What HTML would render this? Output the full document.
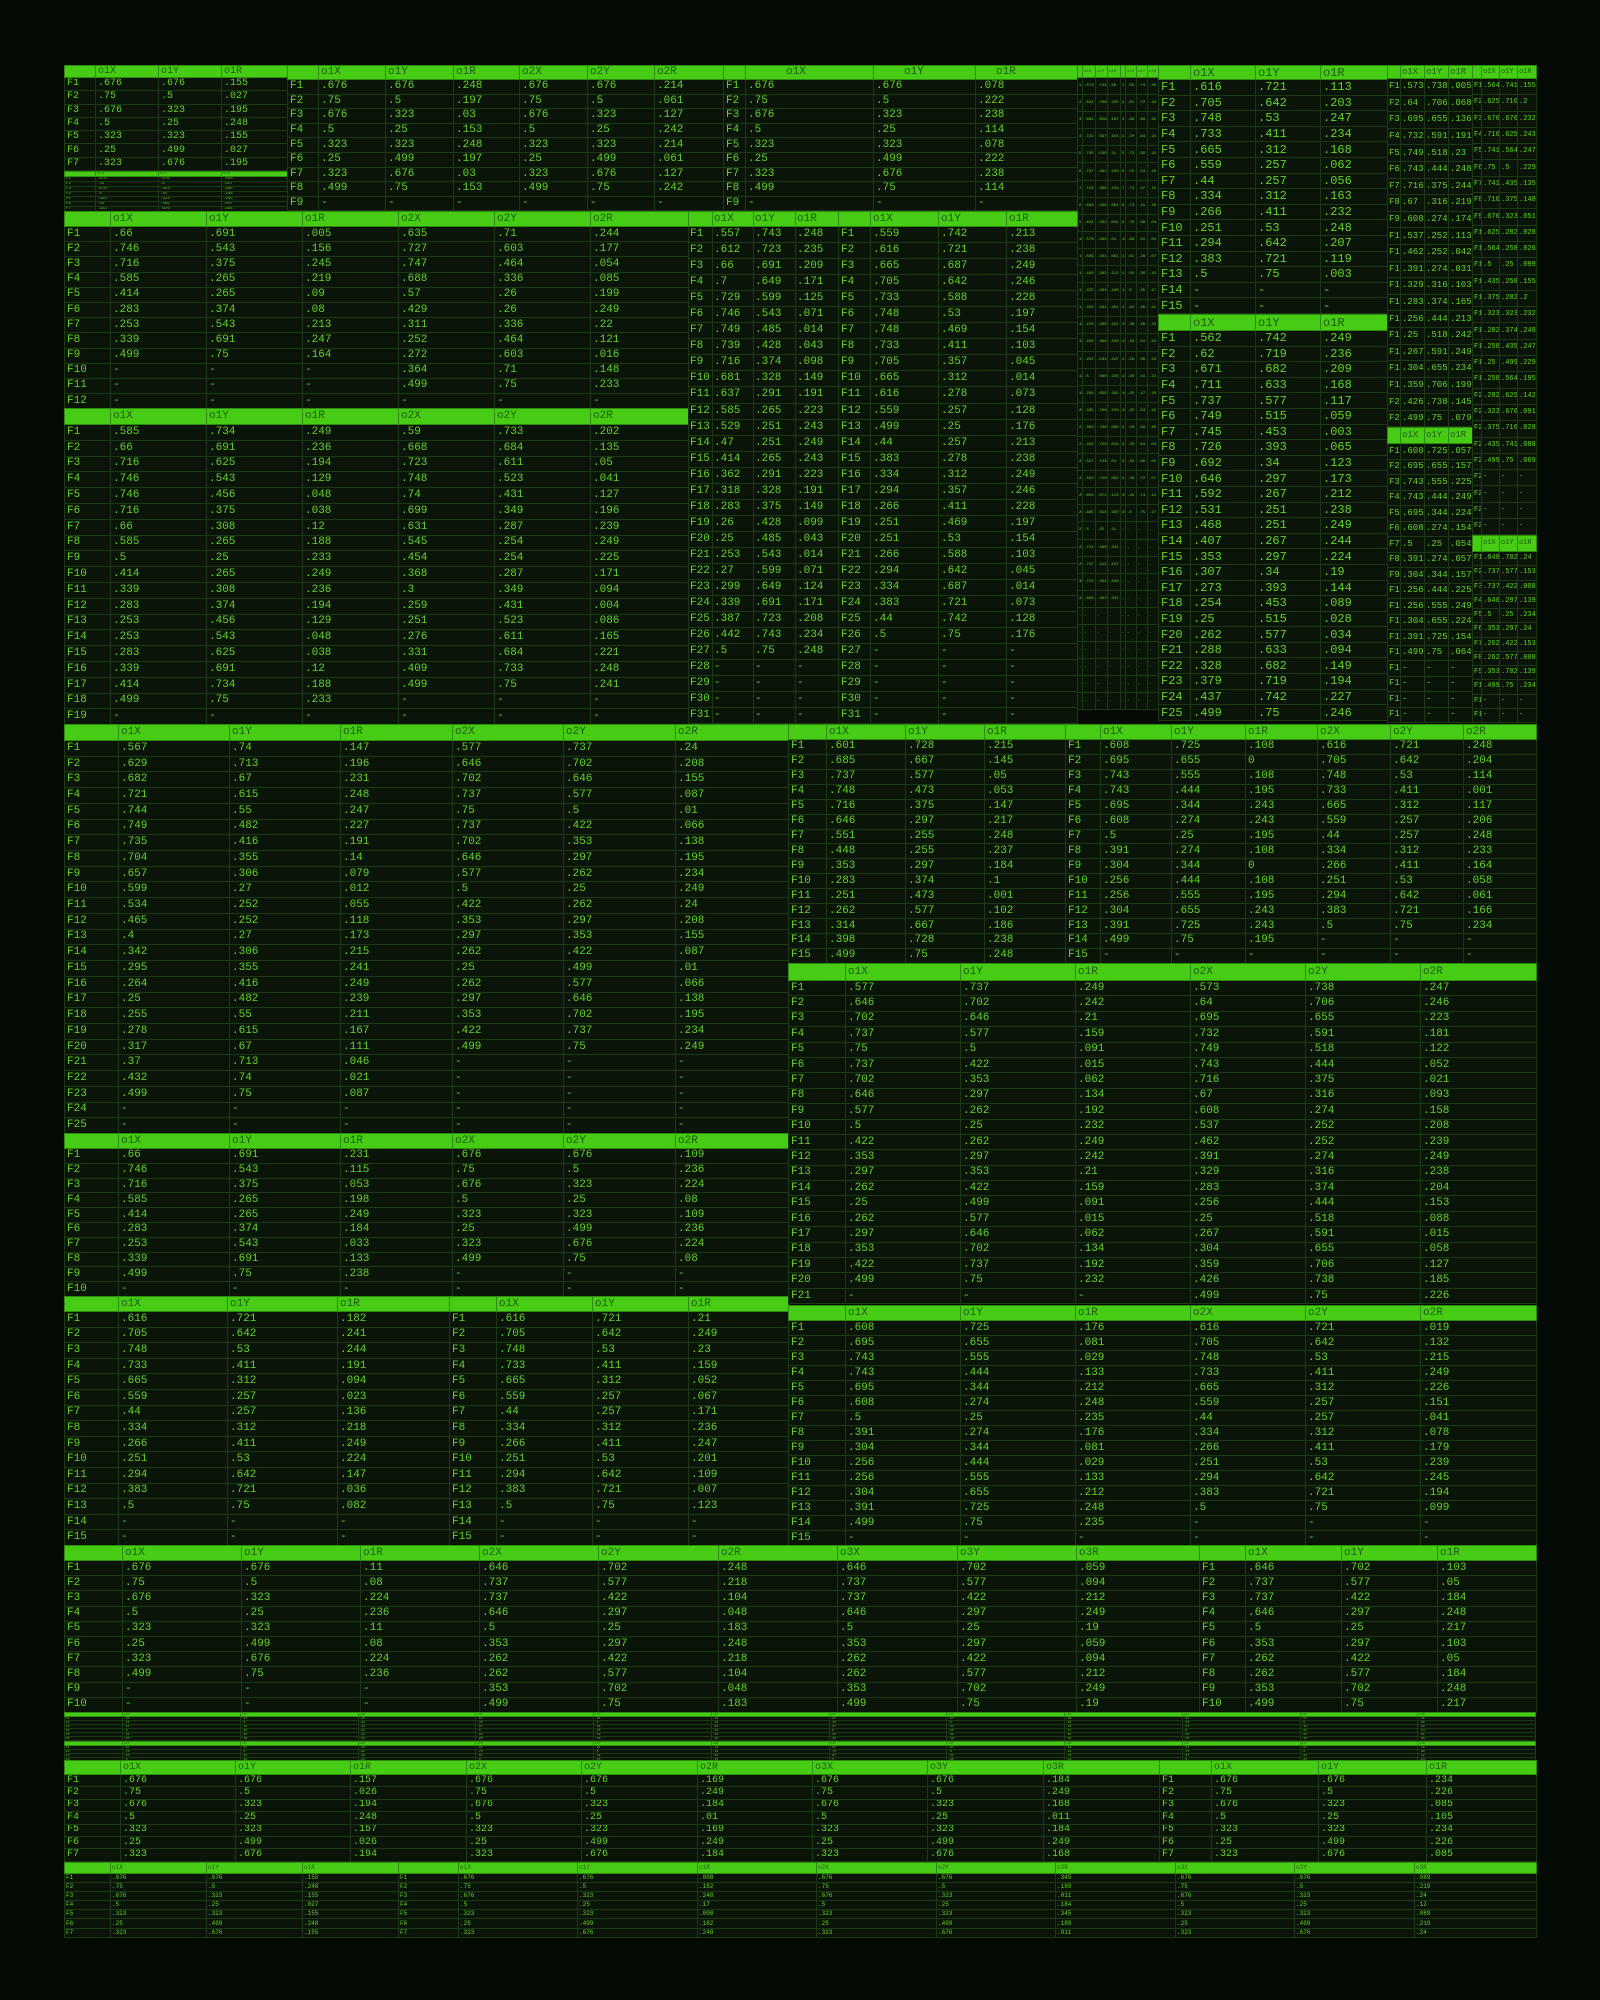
<!DOCTYPE html>
<html><head><meta charset="utf-8">
<style>
html,body{margin:0;padding:0;background:#050b04;width:1600px;height:2000px;overflow:hidden}
.t{position:absolute;border-collapse:collapse;table-layout:fixed;background:#0a1408;font-family:"Liberation Mono","DejaVu Sans Mono",monospace;color:#63d42b;font-size:11px}
.t td{border:1px solid #1c3815;padding:0 0 0 2px;white-space:nowrap;overflow:hidden;line-height:1;vertical-align:middle}
.t tr{height:var(--r)}
.t tr.h{height:var(--hh)}
.t tr.h td{background:#47cc16;color:#1d5a0b;border-color:#2f8a10}
.s td{padding:0 0 0 1px}
</style></head><body>

<!-- T1 -->
<table class="t" style="left:64px;top:65px;width:223px;--r:13.3px;--hh:12px;font-size:10px">
<colgroup><col style="width:31px"><col style="width:63px"><col style="width:63px"><col style="width:66px"></colgroup>
<tr class="h"><td><td>o1X<td>o1Y<td>o1R
<tr><td>F1<td>.676<td>.676<td>.155
<tr><td>F2<td>.75<td>.5<td>.027
<tr><td>F3<td>.676<td>.323<td>.195
<tr><td>F4<td>.5<td>.25<td>.248
<tr><td>F5<td>.323<td>.323<td>.155
<tr><td>F6<td>.25<td>.499<td>.027
<tr><td>F7<td>.323<td>.676<td>.195
</table>
<table class="t s" style="left:64px;top:171px;width:223px;--r:5px;--hh:3px;font-size:4px">
<colgroup><col style="width:31px"><col style="width:63px"><col style="width:63px"><col style="width:66px"></colgroup>
<tr class="h"><td><td>o1X<td>o1Y<td>o1R
<tr><td>F1<td>.676<td>.676<td>.155
<tr><td>F2<td>.75<td>.5<td>.027
<tr><td>F3<td>.676<td>.323<td>.195
<tr><td>F4<td>.5<td>.25<td>.248
<tr><td>F5<td>.323<td>.323<td>.155
<tr><td>F6<td>.25<td>.499<td>.027
<tr><td>F7<td>.323<td>.676<td>.195
</table>

<!-- T2 -->
<table class="t" style="left:287px;top:65px;width:436px;--r:14.6px;--hh:14px">
<colgroup><col style="width:31px"><col style="width:67px"><col style="width:68px"><col style="width:66px"><col style="width:68px"><col style="width:67px"><col style="width:69px"></colgroup>
<tr class="h"><td><td>o1X<td>o1Y<td>o1R<td>o2X<td>o2Y<td>o2R
<tr><td>F1<td>.676<td>.676<td>.248<td>.676<td>.676<td>.214
<tr><td>F2<td>.75<td>.5<td>.197<td>.75<td>.5<td>.061
<tr><td>F3<td>.676<td>.323<td>.03<td>.676<td>.323<td>.127
<tr><td>F4<td>.5<td>.25<td>.153<td>.5<td>.25<td>.242
<tr><td>F5<td>.323<td>.323<td>.248<td>.323<td>.323<td>.214
<tr><td>F6<td>.25<td>.499<td>.197<td>.25<td>.499<td>.061
<tr><td>F7<td>.323<td>.676<td>.03<td>.323<td>.676<td>.127
<tr><td>F8<td>.499<td>.75<td>.153<td>.499<td>.75<td>.242
<tr><td>F9<td>-<td>-<td>-<td>-<td>-<td>-
</table>

<!-- T3 -->
<table class="t" style="left:723px;top:65px;width:354px;--r:14.6px;--hh:14px">
<colgroup><col style="width:22px"><col style="width:128px"><col style="width:102px"><col style="width:102px"></colgroup>
<tr class="h"><td><td style="padding-left:40px">o1X<td style="padding-left:30px">o1Y<td style="padding-left:20px">o1R
<tr><td>F1<td>.676<td>.676<td>.078
<tr><td>F2<td>.75<td>.5<td>.222
<tr><td>F3<td>.676<td>.323<td>.238
<tr><td>F4<td>.5<td>.25<td>.114
<tr><td>F5<td>.323<td>.323<td>.078
<tr><td>F6<td>.25<td>.499<td>.222
<tr><td>F7<td>.323<td>.676<td>.238
<tr><td>F8<td>.499<td>.75<td>.114
<tr><td>F9<td>-<td>-<td>-
</table>

<!-- micro column -->
<table class="t s" style="left:1077px;top:65px;width:43px;--r:17.1px;--hh:12px;font-size:4px">
<colgroup><col style="width:5px"><col style="width:13px"><col style="width:12px"><col style="width:13px"></colgroup>
<tr class="h"><td><td>o1X<td>o1Y<td>o1R
<tr><td>1<td>.573<td>.744<td>.26
<tr><td>2<td>.633<td>.708<td>.235
<tr><td>3<td>.684<td>.658<td>.197
<tr><td>4<td>.722<td>.597<td>.154
<tr><td>5<td>.745<td>.530<td>.21
<tr><td>6<td>.747<td>.462<td>.150
<tr><td>7<td>.729<td>.396<td>.159
<tr><td>8<td>.693<td>.339<td>.094
<tr><td>9<td>.641<td>.292<td>.041
<tr><td>10<td>.578<td>.260<td>.01
<tr><td>11<td>.509<td>.251<td>.061
<tr><td>12<td>.440<td>.262<td>.112
<tr><td>13<td>.375<td>.294<td>.160
<tr><td>14<td>.320<td>.341<td>.201
<tr><td>15<td>.279<td>.400<td>.232
<tr><td>16<td>.256<td>.466<td>.248
<tr><td>17<td>.252<td>.534<td>.247
<tr><td>18<td>.5<td>.600<td>.229
<tr><td>19<td>.290<td>.659<td>.195
<tr><td>20<td>.335<td>.706<td>.150
<tr><td>21<td>.393<td>.738<td>.098
<tr><td>22<td>.459<td>.750<td>.043
<tr><td>23<td>.527<td>.743<td>.01
<tr><td>24<td>.593<td>.716<td>.062
<tr><td>25<td>.650<td>.672<td>.113
<tr><td>26<td>.695<td>.614<td>.160
<tr><td>27<td>.5<td>.25<td>.21
<tr><td>28<td>.741<td>.480<td>.231
<tr><td>29<td>.737<td>.413<td>.247
<tr><td>30<td>.712<td>.352<td>.248
<tr><td>31<td>.669<td>.302<td>.232
<tr><td>-<td>-<td>-<td>-
<tr><td>-<td>-<td>-<td>-
<tr><td>-<td>-<td>-<td>-
<tr><td>-<td>-<td>-<td>-
<tr><td>-<td>-<td>-<td>-
<tr><td>-<td>-<td>-<td>-
</table>
<table class="t s" style="left:1120px;top:65px;width:38px;--r:17.1px;--hh:12px;font-size:4px">
<colgroup><col style="width:5px"><col style="width:11px"><col style="width:11px"><col style="width:11px"></colgroup>
<tr class="h"><td><td>o1X<td>o1Y<td>o1R
<tr><td>1<td>.55<td>.74<td>.20
<tr><td>2<td>.61<td>.72<td>.24
<tr><td>3<td>.66<td>.69<td>.25
<tr><td>4<td>.70<td>.64<td>.24
<tr><td>5<td>.73<td>.59<td>.22
<tr><td>6<td>.75<td>.53<td>.19
<tr><td>7<td>.74<td>.47<td>.15
<tr><td>8<td>.73<td>.41<td>.10
<tr><td>9<td>.70<td>.36<td>.04
<tr><td>10<td>.66<td>.31<td>.01
<tr><td>11<td>.61<td>.28<td>.07
<tr><td>12<td>.55<td>.26<td>.12
<tr><td>13<td>.5<td>.25<td>.17
<tr><td>14<td>.44<td>.26<td>.21
<tr><td>15<td>.38<td>.28<td>.23
<tr><td>16<td>.33<td>.31<td>.24
<tr><td>17<td>.29<td>.36<td>.24
<tr><td>18<td>.26<td>.41<td>.22
<tr><td>19<td>.25<td>.47<td>.19
<tr><td>20<td>.25<td>.53<td>.15
<tr><td>21<td>.26<td>.59<td>.10
<tr><td>22<td>.29<td>.64<td>.04
<tr><td>23<td>.33<td>.69<td>.01
<tr><td>24<td>.38<td>.72<td>.07
<tr><td>25<td>.44<td>.74<td>.12
<tr><td>26<td>.5<td>.75<td>.17
<tr><td>-<td>-<td>-<td>-
<tr><td>-<td>-<td>-<td>-
<tr><td>-<td>-<td>-<td>-
<tr><td>-<td>-<td>-<td>-
<tr><td>-<td>-<td>-<td>-
<tr><td>-<td>-<td>-<td>-
<tr><td>-<td>-<td>-<td>-
<tr><td>-<td>-<td>-<td>-
<tr><td>-<td>-<td>-<td>-
<tr><td>-<td>-<td>-<td>-
<tr><td>-<td>-<td>-<td>-
</table>

<!-- T4 -->
<table class="t" style="left:1158px;top:65px;width:229px;--r:15.6px;--hh:14px;font-size:12px">
<colgroup><col style="width:32px"><col style="width:65px"><col style="width:65px"><col style="width:67px"></colgroup>
<tr class="h"><td><td>o1X<td>o1Y<td>o1R
<tr><td>F1<td>.616<td>.721<td>.113
<tr><td>F2<td>.705<td>.642<td>.203
<tr><td>F3<td>.748<td>.53<td>.247
<tr><td>F4<td>.733<td>.411<td>.234
<tr><td>F5<td>.665<td>.312<td>.168
<tr><td>F6<td>.559<td>.257<td>.062
<tr><td>F7<td>.44<td>.257<td>.056
<tr><td>F8<td>.334<td>.312<td>.163
<tr><td>F9<td>.266<td>.411<td>.232
<tr><td>F10<td>.251<td>.53<td>.248
<tr><td>F11<td>.294<td>.642<td>.207
<tr><td>F12<td>.383<td>.721<td>.119
<tr><td>F13<td>.5<td>.75<td>.003
<tr><td>F14<td>-<td>-<td>-
<tr><td>F15<td>-<td>-<td>-
</table>
<table class="t" style="left:1158px;top:314px;width:229px;--r:15.6px;--hh:16px;font-size:12px">
<colgroup><col style="width:32px"><col style="width:65px"><col style="width:65px"><col style="width:67px"></colgroup>
<tr class="h"><td><td>o1X<td>o1Y<td>o1R
<tr><td>F1<td>.562<td>.742<td>.249
<tr><td>F2<td>.62<td>.719<td>.236
<tr><td>F3<td>.671<td>.682<td>.209
<tr><td>F4<td>.711<td>.633<td>.168
<tr><td>F5<td>.737<td>.577<td>.117
<tr><td>F6<td>.749<td>.515<td>.059
<tr><td>F7<td>.745<td>.453<td>.003
<tr><td>F8<td>.726<td>.393<td>.065
<tr><td>F9<td>.692<td>.34<td>.123
<tr><td>F10<td>.646<td>.297<td>.173
<tr><td>F11<td>.592<td>.267<td>.212
<tr><td>F12<td>.531<td>.251<td>.238
<tr><td>F13<td>.468<td>.251<td>.249
<tr><td>F14<td>.407<td>.267<td>.244
<tr><td>F15<td>.353<td>.297<td>.224
<tr><td>F16<td>.307<td>.34<td>.19
<tr><td>F17<td>.273<td>.393<td>.144
<tr><td>F18<td>.254<td>.453<td>.089
<tr><td>F19<td>.25<td>.515<td>.028
<tr><td>F20<td>.262<td>.577<td>.034
<tr><td>F21<td>.288<td>.633<td>.094
<tr><td>F22<td>.328<td>.682<td>.149
<tr><td>F23<td>.379<td>.719<td>.194
<tr><td>F24<td>.437<td>.742<td>.227
<tr><td>F25<td>.499<td>.75<td>.246
</table>

<!-- T5a -->
<table class="t s" style="left:1387px;top:65px;width:85px;--r:16.6px;--hh:13px;font-size:9px">
<colgroup><col style="width:13px"><col style="width:24px"><col style="width:24px"><col style="width:24px"></colgroup>
<tr class="h"><td><td>o1X<td>o1Y<td>o1R
<tr><td>F1<td>.573<td>.738<td>.005
<tr><td>F2<td>.64<td>.706<td>.068
<tr><td>F3<td>.695<td>.655<td>.136
<tr><td>F4<td>.732<td>.591<td>.191
<tr><td>F5<td>.749<td>.518<td>.23
<tr><td>F6<td>.743<td>.444<td>.248
<tr><td>F7<td>.716<td>.375<td>.244
<tr><td>F8<td>.67<td>.316<td>.219
<tr><td>F9<td>.608<td>.274<td>.174
<tr><td>F10<td>.537<td>.252<td>.113
<tr><td>F11<td>.462<td>.252<td>.042
<tr><td>F12<td>.391<td>.274<td>.031
<tr><td>F13<td>.329<td>.316<td>.103
<tr><td>F14<td>.283<td>.374<td>.165
<tr><td>F15<td>.256<td>.444<td>.213
<tr><td>F16<td>.25<td>.518<td>.242
<tr><td>F17<td>.267<td>.591<td>.249
<tr><td>F18<td>.304<td>.655<td>.234
<tr><td>F19<td>.359<td>.706<td>.199
<tr><td>F20<td>.426<td>.738<td>.145
<tr><td>F21<td>.499<td>.75<td>.079
</table>
<table class="t s" style="left:1387px;top:427px;width:85px;--r:15.5px;--hh:16px;font-size:9px">
<colgroup><col style="width:13px"><col style="width:24px"><col style="width:24px"><col style="width:24px"></colgroup>
<tr class="h"><td><td>o1X<td>o1Y<td>o1R
<tr><td>F1<td>.608<td>.725<td>.057
<tr><td>F2<td>.695<td>.655<td>.157
<tr><td>F3<td>.743<td>.555<td>.225
<tr><td>F4<td>.743<td>.444<td>.249
<tr><td>F5<td>.695<td>.344<td>.224
<tr><td>F6<td>.608<td>.274<td>.154
<tr><td>F7<td>.5<td>.25<td>.054
<tr><td>F8<td>.391<td>.274<td>.057
<tr><td>F9<td>.304<td>.344<td>.157
<tr><td>F10<td>.256<td>.444<td>.225
<tr><td>F11<td>.256<td>.555<td>.249
<tr><td>F12<td>.304<td>.655<td>.224
<tr><td>F13<td>.391<td>.725<td>.154
<tr><td>F14<td>.499<td>.75<td>.064
<tr><td>F15<td>-<td>-<td>-
<tr><td>F16<td>-<td>-<td>-
<tr><td>F17<td>-<td>-<td>-
<tr><td>F18<td>-<td>-<td>-
</table>

<!-- T5b -->
<table class="t s" style="left:1472px;top:65px;width:64px;--r:16.3px;--hh:13px;font-size:7px">
<colgroup><col style="width:9px"><col style="width:18px"><col style="width:18px"><col style="width:19px"></colgroup>
<tr class="h"><td><td>o1X<td>o1Y<td>o1R
<tr><td>F1<td>.564<td>.741<td>.155
<tr><td>F2<td>.625<td>.716<td>.2
<tr><td>F3<td>.676<td>.676<td>.232
<tr><td>F4<td>.716<td>.625<td>.243
<tr><td>F5<td>.741<td>.564<td>.247
<tr><td>F6<td>.75<td>.5<td>.229
<tr><td>F7<td>.741<td>.435<td>.135
<tr><td>F8<td>.716<td>.375<td>.148
<tr><td>F9<td>.676<td>.323<td>.051
<tr><td>F10<td>.625<td>.282<td>.028
<tr><td>F11<td>.564<td>.258<td>.026
<tr><td>F12<td>.5<td>.25<td>.099
<tr><td>F13<td>.435<td>.258<td>.155
<tr><td>F14<td>.375<td>.282<td>.2
<tr><td>F15<td>.323<td>.323<td>.232
<tr><td>F16<td>.282<td>.374<td>.248
<tr><td>F17<td>.258<td>.435<td>.247
<tr><td>F18<td>.25<td>.499<td>.229
<tr><td>F19<td>.258<td>.564<td>.195
<tr><td>F20<td>.282<td>.625<td>.142
<tr><td>F21<td>.323<td>.676<td>.091
<tr><td>F22<td>.375<td>.716<td>.028
<tr><td>F23<td>.435<td>.741<td>.088
<tr><td>F24<td>.499<td>.75<td>.069
<tr><td>F25<td>-<td>-<td>-
<tr><td>F26<td>-<td>-<td>-
<tr><td>F27<td>-<td>-<td>-
<tr><td>F28<td>-<td>-<td>-
</table>
<table class="t s" style="left:1472px;top:535px;width:64px;--r:14.25px;--hh:16px;font-size:7px">
<colgroup><col style="width:9px"><col style="width:18px"><col style="width:18px"><col style="width:19px"></colgroup>
<tr class="h"><td><td>o1X<td>o1Y<td>o1R
<tr><td>F1<td>.848<td>.702<td>.24
<tr><td>F2<td>.737<td>.577<td>.153
<tr><td>F3<td>.737<td>.422<td>.008
<tr><td>F4<td>.646<td>.297<td>.139
<tr><td>F5<td>.5<td>.25<td>.234
<tr><td>F6<td>.353<td>.297<td>.24
<tr><td>F7<td>.262<td>.422<td>.153
<tr><td>F8<td>.262<td>.577<td>.008
<tr><td>F9<td>.353<td>.702<td>.139
<tr><td>F10<td>.499<td>.75<td>.234
<tr><td>F11<td>-<td>-<td>-
<tr><td>F12<td>-<td>-<td>-
</table>

<!-- T6 -->
<table class="t" style="left:64px;top:211px;width:624px;--r:15.2px;--hh:15px">
<colgroup><col style="width:46px"><col style="width:96px"><col style="width:96px"><col style="width:96px"><col style="width:96px"><col style="width:96px"><col style="width:98px"></colgroup>
<tr class="h"><td><td>o1X<td>o1Y<td>o1R<td>o2X<td>o2Y<td>o2R
<tr><td>F1<td>.66<td>.691<td>.005<td>.635<td>.71<td>.244
<tr><td>F2<td>.746<td>.543<td>.156<td>.727<td>.603<td>.177
<tr><td>F3<td>.716<td>.375<td>.245<td>.747<td>.464<td>.054
<tr><td>F4<td>.585<td>.265<td>.219<td>.688<td>.336<td>.085
<tr><td>F5<td>.414<td>.265<td>.09<td>.57<td>.26<td>.199
<tr><td>F6<td>.283<td>.374<td>.08<td>.429<td>.26<td>.249
<tr><td>F7<td>.253<td>.543<td>.213<td>.311<td>.336<td>.22
<tr><td>F8<td>.339<td>.691<td>.247<td>.252<td>.464<td>.121
<tr><td>F9<td>.499<td>.75<td>.164<td>.272<td>.603<td>.016
<tr><td>F10<td>-<td>-<td>-<td>.364<td>.71<td>.148
<tr><td>F11<td>-<td>-<td>-<td>.499<td>.75<td>.233
<tr><td>F12<td>-<td>-<td>-<td>-<td>-<td>-
</table>

<!-- T7 -->
<table class="t" style="left:64px;top:408px;width:624px;--r:15.8px;--hh:16px">
<colgroup><col style="width:46px"><col style="width:96px"><col style="width:96px"><col style="width:96px"><col style="width:96px"><col style="width:96px"><col style="width:98px"></colgroup>
<tr class="h"><td><td>o1X<td>o1Y<td>o1R<td>o2X<td>o2Y<td>o2R
<tr><td>F1<td>.585<td>.734<td>.249<td>.59<td>.733<td>.202
<tr><td>F2<td>.66<td>.691<td>.236<td>.668<td>.684<td>.135
<tr><td>F3<td>.716<td>.625<td>.194<td>.723<td>.611<td>.05
<tr><td>F4<td>.746<td>.543<td>.129<td>.748<td>.523<td>.041
<tr><td>F5<td>.746<td>.456<td>.048<td>.74<td>.431<td>.127
<tr><td>F6<td>.716<td>.375<td>.038<td>.699<td>.349<td>.196
<tr><td>F7<td>.66<td>.308<td>.12<td>.631<td>.287<td>.239
<tr><td>F8<td>.585<td>.265<td>.188<td>.545<td>.254<td>.249
<tr><td>F9<td>.5<td>.25<td>.233<td>.454<td>.254<td>.225
<tr><td>F10<td>.414<td>.265<td>.249<td>.368<td>.287<td>.171
<tr><td>F11<td>.339<td>.308<td>.236<td>.3<td>.349<td>.094
<tr><td>F12<td>.283<td>.374<td>.194<td>.259<td>.431<td>.004
<tr><td>F13<td>.253<td>.456<td>.129<td>.251<td>.523<td>.086
<tr><td>F14<td>.253<td>.543<td>.048<td>.276<td>.611<td>.165
<tr><td>F15<td>.283<td>.625<td>.038<td>.331<td>.684<td>.221
<tr><td>F16<td>.339<td>.691<td>.12<td>.409<td>.733<td>.248
<tr><td>F17<td>.414<td>.734<td>.188<td>.499<td>.75<td>.241
<tr><td>F18<td>.499<td>.75<td>.233<td>-<td>-<td>-
<tr><td>F19<td>-<td>-<td>-<td>-<td>-<td>-
</table>

<!-- T8 -->
<table class="t s" style="left:688px;top:211px;width:150px;--r:16.06px;--hh:15px;font-size:11px">
<colgroup><col style="width:24px"><col style="width:41px"><col style="width:42px"><col style="width:43px"></colgroup>
<tr class="h"><td><td>o1X<td>o1Y<td>o1R
<tr><td>F1<td>.557<td>.743<td>.248
<tr><td>F2<td>.612<td>.723<td>.235
<tr><td>F3<td>.66<td>.691<td>.209
<tr><td>F4<td>.7<td>.649<td>.171
<tr><td>F5<td>.729<td>.599<td>.125
<tr><td>F6<td>.746<td>.543<td>.071
<tr><td>F7<td>.749<td>.485<td>.014
<tr><td>F8<td>.739<td>.428<td>.043
<tr><td>F9<td>.716<td>.374<td>.098
<tr><td>F10<td>.681<td>.328<td>.149
<tr><td>F11<td>.637<td>.291<td>.191
<tr><td>F12<td>.585<td>.265<td>.223
<tr><td>F13<td>.529<td>.251<td>.243
<tr><td>F14<td>.47<td>.251<td>.249
<tr><td>F15<td>.414<td>.265<td>.243
<tr><td>F16<td>.362<td>.291<td>.223
<tr><td>F17<td>.318<td>.328<td>.191
<tr><td>F18<td>.283<td>.375<td>.149
<tr><td>F19<td>.26<td>.428<td>.099
<tr><td>F20<td>.25<td>.485<td>.043
<tr><td>F21<td>.253<td>.543<td>.014
<tr><td>F22<td>.27<td>.599<td>.071
<tr><td>F23<td>.299<td>.649<td>.124
<tr><td>F24<td>.339<td>.691<td>.171
<tr><td>F25<td>.387<td>.723<td>.208
<tr><td>F26<td>.442<td>.743<td>.234
<tr><td>F27<td>.5<td>.75<td>.248
<tr><td>F28<td>-<td>-<td>-
<tr><td>F29<td>-<td>-<td>-
<tr><td>F30<td>-<td>-<td>-
<tr><td>F31<td>-<td>-<td>-
</table>

<!-- T9 -->
<table class="t" style="left:838px;top:211px;width:239px;--r:16.06px;--hh:15px">
<colgroup><col style="width:32px"><col style="width:68px"><col style="width:68px"><col style="width:71px"></colgroup>
<tr class="h"><td><td>o1X<td>o1Y<td>o1R
<tr><td>F1<td>.559<td>.742<td>.213
<tr><td>F2<td>.616<td>.721<td>.238
<tr><td>F3<td>.665<td>.687<td>.249
<tr><td>F4<td>.705<td>.642<td>.246
<tr><td>F5<td>.733<td>.588<td>.228
<tr><td>F6<td>.748<td>.53<td>.197
<tr><td>F7<td>.748<td>.469<td>.154
<tr><td>F8<td>.733<td>.411<td>.103
<tr><td>F9<td>.705<td>.357<td>.045
<tr><td>F10<td>.665<td>.312<td>.014
<tr><td>F11<td>.616<td>.278<td>.073
<tr><td>F12<td>.559<td>.257<td>.128
<tr><td>F13<td>.499<td>.25<td>.176
<tr><td>F14<td>.44<td>.257<td>.213
<tr><td>F15<td>.383<td>.278<td>.238
<tr><td>F16<td>.334<td>.312<td>.249
<tr><td>F17<td>.294<td>.357<td>.246
<tr><td>F18<td>.266<td>.411<td>.228
<tr><td>F19<td>.251<td>.469<td>.197
<tr><td>F20<td>.251<td>.53<td>.154
<tr><td>F21<td>.266<td>.588<td>.103
<tr><td>F22<td>.294<td>.642<td>.045
<tr><td>F23<td>.334<td>.687<td>.014
<tr><td>F24<td>.383<td>.721<td>.073
<tr><td>F25<td>.44<td>.742<td>.128
<tr><td>F26<td>.5<td>.75<td>.176
<tr><td>F27<td>-<td>-<td>-
<tr><td>F28<td>-<td>-<td>-
<tr><td>F29<td>-<td>-<td>-
<tr><td>F30<td>-<td>-<td>-
<tr><td>F31<td>-<td>-<td>-
</table>

<!-- T10 -->
<table class="t" style="left:64px;top:724px;width:724px;--r:15.72px;--hh:16px">
<colgroup><col style="width:54px"><col style="width:111px"><col style="width:111px"><col style="width:112px"><col style="width:111px"><col style="width:112px"><col style="width:113px"></colgroup>
<tr class="h"><td><td>o1X<td>o1Y<td>o1R<td>o2X<td>o2Y<td>o2R
<tr><td>F1<td>.567<td>.74<td>.147<td>.577<td>.737<td>.24
<tr><td>F2<td>.629<td>.713<td>.196<td>.646<td>.702<td>.208
<tr><td>F3<td>.682<td>.67<td>.231<td>.702<td>.646<td>.155
<tr><td>F4<td>.721<td>.615<td>.248<td>.737<td>.577<td>.087
<tr><td>F5<td>.744<td>.55<td>.247<td>.75<td>.5<td>.01
<tr><td>F6<td>.749<td>.482<td>.227<td>.737<td>.422<td>.066
<tr><td>F7<td>.735<td>.416<td>.191<td>.702<td>.353<td>.138
<tr><td>F8<td>.704<td>.355<td>.14<td>.646<td>.297<td>.195
<tr><td>F9<td>.657<td>.306<td>.079<td>.577<td>.262<td>.234
<tr><td>F10<td>.599<td>.27<td>.012<td>.5<td>.25<td>.249
<tr><td>F11<td>.534<td>.252<td>.055<td>.422<td>.262<td>.24
<tr><td>F12<td>.465<td>.252<td>.118<td>.353<td>.297<td>.208
<tr><td>F13<td>.4<td>.27<td>.173<td>.297<td>.353<td>.155
<tr><td>F14<td>.342<td>.306<td>.215<td>.262<td>.422<td>.087
<tr><td>F15<td>.295<td>.355<td>.241<td>.25<td>.499<td>.01
<tr><td>F16<td>.264<td>.416<td>.249<td>.262<td>.577<td>.066
<tr><td>F17<td>.25<td>.482<td>.239<td>.297<td>.646<td>.138
<tr><td>F18<td>.255<td>.55<td>.211<td>.353<td>.702<td>.195
<tr><td>F19<td>.278<td>.615<td>.167<td>.422<td>.737<td>.234
<tr><td>F20<td>.317<td>.67<td>.111<td>.499<td>.75<td>.249
<tr><td>F21<td>.37<td>.713<td>.046<td>-<td>-<td>-
<tr><td>F22<td>.432<td>.74<td>.021<td>-<td>-<td>-
<tr><td>F23<td>.499<td>.75<td>.087<td>-<td>-<td>-
<tr><td>F24<td>-<td>-<td>-<td>-<td>-<td>-
<tr><td>F25<td>-<td>-<td>-<td>-<td>-<td>-
</table>

<!-- T11 -->
<table class="t" style="left:64px;top:1133px;width:724px;--r:14.8px;--hh:15px">
<colgroup><col style="width:54px"><col style="width:111px"><col style="width:111px"><col style="width:112px"><col style="width:111px"><col style="width:112px"><col style="width:113px"></colgroup>
<tr class="h"><td><td>o1X<td>o1Y<td>o1R<td>o2X<td>o2Y<td>o2R
<tr><td>F1<td>.66<td>.691<td>.231<td>.676<td>.676<td>.109
<tr><td>F2<td>.746<td>.543<td>.115<td>.75<td>.5<td>.236
<tr><td>F3<td>.716<td>.375<td>.053<td>.676<td>.323<td>.224
<tr><td>F4<td>.585<td>.265<td>.198<td>.5<td>.25<td>.08
<tr><td>F5<td>.414<td>.265<td>.249<td>.323<td>.323<td>.109
<tr><td>F6<td>.283<td>.374<td>.184<td>.25<td>.499<td>.236
<tr><td>F7<td>.253<td>.543<td>.033<td>.323<td>.676<td>.224
<tr><td>F8<td>.339<td>.691<td>.133<td>.499<td>.75<td>.08
<tr><td>F9<td>.499<td>.75<td>.238<td>-<td>-<td>-
<tr><td>F10<td>-<td>-<td>-<td>-<td>-<td>-
</table>

<!-- T12a -->
<table class="t" style="left:64px;top:1296px;width:385px;--r:15.6px;--hh:15px">
<colgroup><col style="width:54px"><col style="width:109px"><col style="width:110px"><col style="width:112px"></colgroup>
<tr class="h"><td><td>o1X<td>o1Y<td>o1R
<tr><td>F1<td>.616<td>.721<td>.182
<tr><td>F2<td>.705<td>.642<td>.241
<tr><td>F3<td>.748<td>.53<td>.244
<tr><td>F4<td>.733<td>.411<td>.191
<tr><td>F5<td>.665<td>.312<td>.094
<tr><td>F6<td>.559<td>.257<td>.023
<tr><td>F7<td>.44<td>.257<td>.136
<tr><td>F8<td>.334<td>.312<td>.218
<tr><td>F9<td>.266<td>.411<td>.249
<tr><td>F10<td>.251<td>.53<td>.224
<tr><td>F11<td>.294<td>.642<td>.147
<tr><td>F12<td>.383<td>.721<td>.036
<tr><td>F13<td>.5<td>.75<td>.082
<tr><td>F14<td>-<td>-<td>-
<tr><td>F15<td>-<td>-<td>-
</table>
<!-- T12b -->
<table class="t" style="left:449px;top:1296px;width:339px;--r:15.6px;--hh:15px">
<colgroup><col style="width:47px"><col style="width:96px"><col style="width:96px"><col style="width:100px"></colgroup>
<tr class="h"><td><td>o1X<td>o1Y<td>o1R
<tr><td>F1<td>.616<td>.721<td>.21
<tr><td>F2<td>.705<td>.642<td>.249
<tr><td>F3<td>.748<td>.53<td>.23
<tr><td>F4<td>.733<td>.411<td>.159
<tr><td>F5<td>.665<td>.312<td>.052
<tr><td>F6<td>.559<td>.257<td>.067
<tr><td>F7<td>.44<td>.257<td>.171
<tr><td>F8<td>.334<td>.312<td>.236
<tr><td>F9<td>.266<td>.411<td>.247
<tr><td>F10<td>.251<td>.53<td>.201
<tr><td>F11<td>.294<td>.642<td>.109
<tr><td>F12<td>.383<td>.721<td>.007
<tr><td>F13<td>.5<td>.75<td>.123
<tr><td>F14<td>-<td>-<td>-
<tr><td>F15<td>-<td>-<td>-
</table>

<!-- T13 -->
<table class="t" style="left:788px;top:724px;width:277px;--r:14.93px;--hh:15px">
<colgroup><col style="width:38px"><col style="width:79px"><col style="width:79px"><col style="width:81px"></colgroup>
<tr class="h"><td><td>o1X<td>o1Y<td>o1R
<tr><td>F1<td>.601<td>.728<td>.215
<tr><td>F2<td>.685<td>.667<td>.145
<tr><td>F3<td>.737<td>.577<td>.05
<tr><td>F4<td>.748<td>.473<td>.053
<tr><td>F5<td>.716<td>.375<td>.147
<tr><td>F6<td>.646<td>.297<td>.217
<tr><td>F7<td>.551<td>.255<td>.248
<tr><td>F8<td>.448<td>.255<td>.237
<tr><td>F9<td>.353<td>.297<td>.184
<tr><td>F10<td>.283<td>.374<td>.1
<tr><td>F11<td>.251<td>.473<td>.001
<tr><td>F12<td>.262<td>.577<td>.102
<tr><td>F13<td>.314<td>.667<td>.186
<tr><td>F14<td>.398<td>.728<td>.238
<tr><td>F15<td>.499<td>.75<td>.248
</table>

<!-- T14 -->
<table class="t" style="left:1065px;top:724px;width:471px;--r:14.93px;--hh:15px">
<colgroup><col style="width:35px"><col style="width:71px"><col style="width:74px"><col style="width:72px"><col style="width:73px"><col style="width:73px"><col style="width:73px"></colgroup>
<tr class="h"><td><td>o1X<td>o1Y<td>o1R<td>o2X<td>o2Y<td>o2R
<tr><td>F1<td>.608<td>.725<td>.108<td>.616<td>.721<td>.248
<tr><td>F2<td>.695<td>.655<td>0<td>.705<td>.642<td>.204
<tr><td>F3<td>.743<td>.555<td>.108<td>.748<td>.53<td>.114
<tr><td>F4<td>.743<td>.444<td>.195<td>.733<td>.411<td>.001
<tr><td>F5<td>.695<td>.344<td>.243<td>.665<td>.312<td>.117
<tr><td>F6<td>.608<td>.274<td>.243<td>.559<td>.257<td>.206
<tr><td>F7<td>.5<td>.25<td>.195<td>.44<td>.257<td>.248
<tr><td>F8<td>.391<td>.274<td>.108<td>.334<td>.312<td>.233
<tr><td>F9<td>.304<td>.344<td>0<td>.266<td>.411<td>.164
<tr><td>F10<td>.256<td>.444<td>.108<td>.251<td>.53<td>.058
<tr><td>F11<td>.256<td>.555<td>.195<td>.294<td>.642<td>.061
<tr><td>F12<td>.304<td>.655<td>.243<td>.383<td>.721<td>.166
<tr><td>F13<td>.391<td>.725<td>.243<td>.5<td>.75<td>.234
<tr><td>F14<td>.499<td>.75<td>.195<td>-<td>-<td>-
<tr><td>F15<td>-<td>-<td>-<td>-<td>-<td>-
</table>

<!-- T15 -->
<table class="t" style="left:788px;top:963px;width:748px;--r:15.4px;--hh:17px">
<colgroup><col style="width:57px"><col style="width:115px"><col style="width:115px"><col style="width:115px"><col style="width:115px"><col style="width:115px"><col style="width:116px"></colgroup>
<tr class="h"><td><td>o1X<td>o1Y<td>o1R<td>o2X<td>o2Y<td>o2R
<tr><td>F1<td>.577<td>.737<td>.249<td>.573<td>.738<td>.247
<tr><td>F2<td>.646<td>.702<td>.242<td>.64<td>.706<td>.246
<tr><td>F3<td>.702<td>.646<td>.21<td>.695<td>.655<td>.223
<tr><td>F4<td>.737<td>.577<td>.159<td>.732<td>.591<td>.181
<tr><td>F5<td>.75<td>.5<td>.091<td>.749<td>.518<td>.122
<tr><td>F6<td>.737<td>.422<td>.015<td>.743<td>.444<td>.052
<tr><td>F7<td>.702<td>.353<td>.062<td>.716<td>.375<td>.021
<tr><td>F8<td>.646<td>.297<td>.134<td>.67<td>.316<td>.093
<tr><td>F9<td>.577<td>.262<td>.192<td>.608<td>.274<td>.158
<tr><td>F10<td>.5<td>.25<td>.232<td>.537<td>.252<td>.208
<tr><td>F11<td>.422<td>.262<td>.249<td>.462<td>.252<td>.239
<tr><td>F12<td>.353<td>.297<td>.242<td>.391<td>.274<td>.249
<tr><td>F13<td>.297<td>.353<td>.21<td>.329<td>.316<td>.238
<tr><td>F14<td>.262<td>.422<td>.159<td>.283<td>.374<td>.204
<tr><td>F15<td>.25<td>.499<td>.091<td>.256<td>.444<td>.153
<tr><td>F16<td>.262<td>.577<td>.015<td>.25<td>.518<td>.088
<tr><td>F17<td>.297<td>.646<td>.062<td>.267<td>.591<td>.015
<tr><td>F18<td>.353<td>.702<td>.134<td>.304<td>.655<td>.058
<tr><td>F19<td>.422<td>.737<td>.192<td>.359<td>.706<td>.127
<tr><td>F20<td>.499<td>.75<td>.232<td>.426<td>.738<td>.185
<tr><td>F21<td>-<td>-<td>-<td>.499<td>.75<td>.226
</table>

<!-- T16 -->
<table class="t" style="left:788px;top:1305px;width:748px;--r:15px;--hh:15px">
<colgroup><col style="width:57px"><col style="width:115px"><col style="width:115px"><col style="width:115px"><col style="width:115px"><col style="width:115px"><col style="width:116px"></colgroup>
<tr class="h"><td><td>o1X<td>o1Y<td>o1R<td>o2X<td>o2Y<td>o2R
<tr><td>F1<td>.608<td>.725<td>.176<td>.616<td>.721<td>.019
<tr><td>F2<td>.695<td>.655<td>.081<td>.705<td>.642<td>.132
<tr><td>F3<td>.743<td>.555<td>.029<td>.748<td>.53<td>.215
<tr><td>F4<td>.743<td>.444<td>.133<td>.733<td>.411<td>.249
<tr><td>F5<td>.695<td>.344<td>.212<td>.665<td>.312<td>.226
<tr><td>F6<td>.608<td>.274<td>.248<td>.559<td>.257<td>.151
<tr><td>F7<td>.5<td>.25<td>.235<td>.44<td>.257<td>.041
<tr><td>F8<td>.391<td>.274<td>.176<td>.334<td>.312<td>.078
<tr><td>F9<td>.304<td>.344<td>.081<td>.266<td>.411<td>.179
<tr><td>F10<td>.256<td>.444<td>.029<td>.251<td>.53<td>.239
<tr><td>F11<td>.256<td>.555<td>.133<td>.294<td>.642<td>.245
<tr><td>F12<td>.304<td>.655<td>.212<td>.383<td>.721<td>.194
<tr><td>F13<td>.391<td>.725<td>.248<td>.5<td>.75<td>.099
<tr><td>F14<td>.499<td>.75<td>.235<td>-<td>-<td>-
<tr><td>F15<td>-<td>-<td>-<td>-<td>-<td>-
</table>

<!-- T17 -->
<table class="t" style="left:64px;top:1545px;width:1135px;--r:15.2px;--hh:15px">
<colgroup><col style="width:58px"><col style="width:119px"><col style="width:119px"><col style="width:119px"><col style="width:119px"><col style="width:120px"><col style="width:119px"><col style="width:120px"><col style="width:119px"><col style="width:123px"></colgroup>
<tr class="h"><td><td>o1X<td>o1Y<td>o1R<td>o2X<td>o2Y<td>o2R<td>o3X<td>o3Y<td>o3R
<tr><td>F1<td>.676<td>.676<td>.11<td>.646<td>.702<td>.248<td>.646<td>.702<td>.059
<tr><td>F2<td>.75<td>.5<td>.08<td>.737<td>.577<td>.218<td>.737<td>.577<td>.094
<tr><td>F3<td>.676<td>.323<td>.224<td>.737<td>.422<td>.104<td>.737<td>.422<td>.212
<tr><td>F4<td>.5<td>.25<td>.236<td>.646<td>.297<td>.048<td>.646<td>.297<td>.249
<tr><td>F5<td>.323<td>.323<td>.11<td>.5<td>.25<td>.183<td>.5<td>.25<td>.19
<tr><td>F6<td>.25<td>.499<td>.08<td>.353<td>.297<td>.248<td>.353<td>.297<td>.059
<tr><td>F7<td>.323<td>.676<td>.224<td>.262<td>.422<td>.218<td>.262<td>.422<td>.094
<tr><td>F8<td>.499<td>.75<td>.236<td>.262<td>.577<td>.104<td>.262<td>.577<td>.212
<tr><td>F9<td>-<td>-<td>-<td>.353<td>.702<td>.048<td>.353<td>.702<td>.249
<tr><td>F10<td>-<td>-<td>-<td>.499<td>.75<td>.183<td>.499<td>.75<td>.19
</table>
<!-- T18 -->
<table class="t" style="left:1199px;top:1545px;width:337px;--r:15.2px;--hh:15px">
<colgroup><col style="width:46px"><col style="width:96px"><col style="width:96px"><col style="width:99px"></colgroup>
<tr class="h"><td><td>o1X<td>o1Y<td>o1R
<tr><td>F1<td>.646<td>.702<td>.103
<tr><td>F2<td>.737<td>.577<td>.05
<tr><td>F3<td>.737<td>.422<td>.184
<tr><td>F4<td>.646<td>.297<td>.248
<tr><td>F5<td>.5<td>.25<td>.217
<tr><td>F6<td>.353<td>.297<td>.103
<tr><td>F7<td>.262<td>.422<td>.05
<tr><td>F8<td>.262<td>.577<td>.184
<tr><td>F9<td>.353<td>.702<td>.248
<tr><td>F10<td>.499<td>.75<td>.217
</table>

<!-- micro strips -->
<table class="t s" style="left:64px;top:1712px;width:1472px;--r:3.7px;--hh:3px;font-size:3px">
<colgroup><col style="width:58px"><col><col><col><col><col><col><col><col><col><col><col><col></colgroup>
<tr class="h"><td><td>o1X<td>o1Y<td>o1R<td>o2X<td>o2Y<td>o2R<td>o3X<td>o3Y<td>o3R<td>o4X<td>o4Y<td>o4R
<tr><td>F1<td>.67<td>.67<td>.15<td>.67<td>.67<td>.24<td>.67<td>.67<td>.08<td>.67<td>.67<td>.19
<tr><td>F2<td>.75<td>.5<td>.02<td>.75<td>.5<td>.19<td>.75<td>.5<td>.22<td>.75<td>.5<td>.06
<tr><td>F3<td>.67<td>.32<td>.19<td>.67<td>.32<td>.03<td>.67<td>.32<td>.23<td>.67<td>.32<td>.12
<tr><td>F4<td>.5<td>.25<td>.24<td>.5<td>.25<td>.15<td>.5<td>.25<td>.11<td>.5<td>.25<td>.24
<tr><td>F5<td>.32<td>.32<td>.15<td>.32<td>.32<td>.24<td>.32<td>.32<td>.07<td>.32<td>.32<td>.21
<tr><td>F6<td>.25<td>.49<td>.02<td>.25<td>.49<td>.19<td>.25<td>.49<td>.22<td>.25<td>.49<td>.06
<tr><td>F7<td>.32<td>.67<td>.19<td>.32<td>.67<td>.03<td>.32<td>.67<td>.23<td>.32<td>.67<td>.12
</table>
<table class="t s" style="left:64px;top:1741px;width:1472px;--r:4px;--hh:3px;font-size:3px">
<colgroup><col style="width:58px"><col><col><col><col><col><col><col><col><col><col><col><col></colgroup>
<tr class="h"><td><td>o1X<td>o1Y<td>o1R<td>o2X<td>o2Y<td>o2R<td>o3X<td>o3Y<td>o3R<td>o4X<td>o4Y<td>o4R
<tr><td>F1<td>.67<td>.67<td>.15<td>.67<td>.67<td>.24<td>.67<td>.67<td>.08<td>.67<td>.67<td>.19
<tr><td>F2<td>.75<td>.5<td>.02<td>.75<td>.5<td>.19<td>.75<td>.5<td>.22<td>.75<td>.5<td>.06
<tr><td>F3<td>.67<td>.32<td>.19<td>.67<td>.32<td>.03<td>.67<td>.32<td>.23<td>.67<td>.32<td>.12
<tr><td>F4<td>.5<td>.25<td>.24<td>.5<td>.25<td>.15<td>.5<td>.25<td>.11<td>.5<td>.25<td>.24
</table>

<!-- T19 -->
<table class="t" style="left:64px;top:1760px;width:1095px;--r:12.4px;--hh:14px;font-size:10px">
<colgroup><col style="width:56px"><col style="width:115px"><col style="width:115px"><col style="width:116px"><col style="width:115px"><col style="width:116px"><col style="width:115px"><col style="width:115px"><col style="width:116px"><col style="width:116px"></colgroup>
<tr class="h"><td><td>o1X<td>o1Y<td>o1R<td>o2X<td>o2Y<td>o2R<td>o3X<td>o3Y<td>o3R
<tr><td>F1<td>.676<td>.676<td>.157<td>.676<td>.676<td>.169<td>.676<td>.676<td>.184
<tr><td>F2<td>.75<td>.5<td>.026<td>.75<td>.5<td>.249<td>.75<td>.5<td>.249
<tr><td>F3<td>.676<td>.323<td>.194<td>.676<td>.323<td>.184<td>.676<td>.323<td>.168
<tr><td>F4<td>.5<td>.25<td>.248<td>.5<td>.25<td>.01<td>.5<td>.25<td>.011
<tr><td>F5<td>.323<td>.323<td>.157<td>.323<td>.323<td>.169<td>.323<td>.323<td>.184
<tr><td>F6<td>.25<td>.499<td>.026<td>.25<td>.499<td>.249<td>.25<td>.499<td>.249
<tr><td>F7<td>.323<td>.676<td>.194<td>.323<td>.676<td>.184<td>.323<td>.676<td>.168
</table>
<table class="t" style="left:1159px;top:1760px;width:377px;--r:12.4px;--hh:14px;font-size:10px">
<colgroup><col style="width:52px"><col style="width:107px"><col style="width:108px"><col style="width:110px"></colgroup>
<tr class="h"><td><td>o1X<td>o1Y<td>o1R
<tr><td>F1<td>.676<td>.676<td>.234
<tr><td>F2<td>.75<td>.5<td>.226
<tr><td>F3<td>.676<td>.323<td>.085
<tr><td>F4<td>.5<td>.25<td>.105
<tr><td>F5<td>.323<td>.323<td>.234
<tr><td>F6<td>.25<td>.499<td>.226
<tr><td>F7<td>.323<td>.676<td>.085
</table>

<!-- T20 -->
<table class="t s" style="left:64px;top:1862px;width:334px;--r:9.1px;--hh:11px;font-size:6px">
<colgroup><col style="width:46px"><col style="width:96px"><col style="width:96px"><col style="width:96px"></colgroup>
<tr class="h"><td><td>o1X<td>o1Y<td>o1R
<tr><td>F1<td>.676<td>.676<td>.155
<tr><td>F2<td>.75<td>.5<td>.248
<tr><td>F3<td>.676<td>.323<td>.155
<tr><td>F4<td>.5<td>.25<td>.027
<tr><td>F5<td>.323<td>.323<td>.155
<tr><td>F6<td>.25<td>.499<td>.248
<tr><td>F7<td>.323<td>.676<td>.155
</table>
<table class="t s" style="left:398px;top:1862px;width:1138px;--r:9.1px;--hh:11px;font-size:6px">
<colgroup><col style="width:60px"><col style="width:119px"><col style="width:120px"><col style="width:119px"><col style="width:120px"><col style="width:119px"><col style="width:120px"><col style="width:119px"><col style="width:120px"><col style="width:122px"></colgroup>
<tr class="h"><td><td>o1X<td>o1Y<td>o1R<td>o2X<td>o2Y<td>o2R<td>o3X<td>o3Y<td>o3R
<tr><td>F1<td>.676<td>.676<td>.008<td>.676<td>.676<td>.345<td>.676<td>.676<td>.089
<tr><td>F2<td>.75<td>.5<td>.182<td>.75<td>.5<td>.189<td>.75<td>.5<td>.219
<tr><td>F3<td>.676<td>.323<td>.248<td>.676<td>.323<td>.011<td>.676<td>.323<td>.24
<tr><td>F4<td>.5<td>.25<td>.17<td>.5<td>.25<td>.184<td>.5<td>.25<td>.12
<tr><td>F5<td>.323<td>.323<td>.008<td>.323<td>.323<td>.345<td>.323<td>.323<td>.089
<tr><td>F6<td>.25<td>.499<td>.182<td>.25<td>.499<td>.189<td>.25<td>.499<td>.219
<tr><td>F7<td>.323<td>.676<td>.248<td>.323<td>.676<td>.011<td>.323<td>.676<td>.24
</table>

</body></html>
